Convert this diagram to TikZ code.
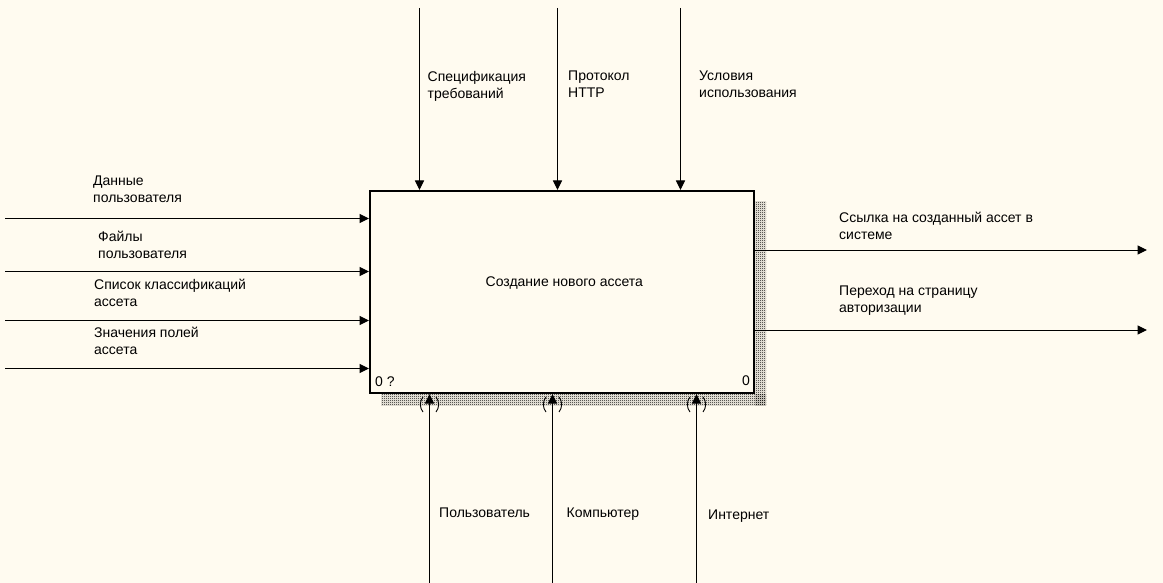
\documentclass[tikz,border=0pt]{standalone}
\usepackage{fontspec}
\setmainfont{Liberation Sans}
\usetikzlibrary{arrows.meta,patterns}
\definecolor{bg}{RGB}{255,251,240}
\pgfdeclarepatternformonly{chk}{\pgfpointorigin}{\pgfpoint{2pt}{2pt}}{\pgfpoint{2pt}{2pt}}{%
  \pgfpathrectangle{\pgfpointorigin}{\pgfpoint{1pt}{1pt}}%
  \pgfpathrectangle{\pgfpoint{1pt}{1pt}}{\pgfpoint{1pt}{1pt}}%
  \pgfusepath{fill}}
\tikzset{
  lbl/.style={anchor=north west, inner sep=0pt, align=left, font=\fontsize{14}{17}\selectfont},
  arr/.style={line width=1pt, -{Triangle[length=9.5pt,width=9pt]}},
  tun/.style={line width=0.9pt},
  shadow/.style={pattern=chk, pattern color=black},
  fbox/.style={draw, line width=2pt, fill=bg, minimum width=384pt, minimum height=202pt, inner sep=0pt}
}
\begin{document}
\begin{tikzpicture}[x=1pt,y=-1pt]
\fill[bg] (0,0) rectangle (1163,583);
\useasboundingbox (0,0) rectangle (1163,583);
% shadow
\fill[shadow] (755,202) rectangle (766,405);
\fill[shadow] (381,394) rectangle (766,405);
% function box
\node[fbox] (box) at (562,292) {};
\node[lbl] (boxt) at (485.5,276.5) {Создание нового ассета};
\node[lbl] (n0q) at (375,376.5) {0 ?};
\node[lbl] (n0) at (742,376) {0};
% inputs
\coordinate (i1) at (5,218.5);
\coordinate (i2) at (5,271.5);
\coordinate (i3) at (5,320.5);
\coordinate (i4) at (5,368.5);
\draw[arr] (i1) -- (i1 -| box.west);
\draw[arr] (i2) -- (i2 -| box.west);
\draw[arr] (i3) -- (i3 -| box.west);
\draw[arr] (i4) -- (i4 -| box.west);
\node[lbl] (li1) at (93,176) {Данные\\пользователя};
\node[lbl] (li2) at (98,230.5) {Файлы\\пользователя};
\node[lbl] (li3) at (94,279) {Список классификаций\\ассета};
\node[lbl] (li4) at (94,326.5) {Значения полей\\ассета};
% controls
\coordinate (c1) at (419.5,8);
\coordinate (c2) at (557.5,8);
\coordinate (c3) at (680.5,8);
\draw[arr] (c1) -- (c1 |- box.north);
\draw[arr] (c2) -- (c2 |- box.north);
\draw[arr] (c3) -- (c3 |- box.north);
\node[lbl] (lc1) at (427.5,71) {Спецификация\\требований};
\node[lbl] (lc2) at (568,71) {Протокол\\HTTP};
\node[lbl] (lc3) at (699,71) {Условия\\использования};
% outputs
\coordinate (o1) at (1147,250);
\coordinate (o2) at (1147,330);
\draw[arr] (o1 -| box.east) -- (o1);
\draw[arr] (o2 -| box.east) -- (o2);
\node[lbl] (lo1) at (839,211.5) {Ссылка на созданный ассет в\\системе};
\node[lbl] (lo2) at (839,285.5) {Переход на страницу\\авторизации};
% mechanisms
\coordinate (m1) at (429.5,583);
\coordinate (m2) at (552.5,583);
\coordinate (m3) at (696.5,583);
\draw[arr] (m1) -- (m1 |- box.south);
\draw[arr] (m2) -- (m2 |- box.south);
\draw[arr] (m3) -- (m3 |- box.south);
\foreach \m in {m1,m2,m3}{
  \draw[tun] ([xshift=-6.5pt,yshift=186pt]\m) .. controls ([xshift=-10pt,yshift=182pt]\m) and ([xshift=-10pt,yshift=175pt]\m) .. ([xshift=-6.5pt,yshift=171pt]\m);
  \draw[tun] ([xshift=6.5pt,yshift=186pt]\m) .. controls ([xshift=10pt,yshift=182pt]\m) and ([xshift=10pt,yshift=175pt]\m) .. ([xshift=6.5pt,yshift=171pt]\m);
}
\node[lbl] (lm1) at (439,507.5) {Пользователь};
\node[lbl] (lm2) at (566.5,508) {Компьютер};
\node[lbl] (lm3) at (708,510) {Интернет};
\end{tikzpicture}
\end{document}
